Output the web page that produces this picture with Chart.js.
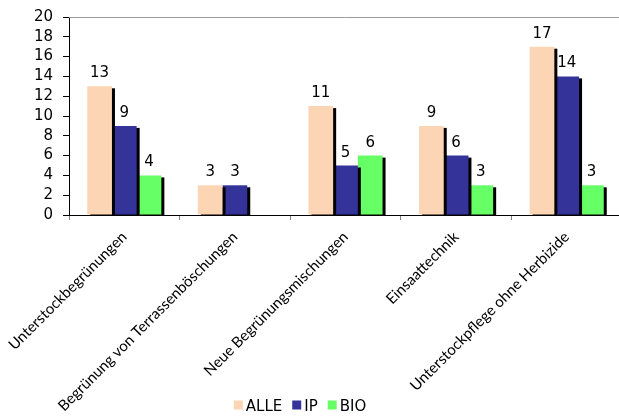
<!DOCTYPE html>
<html>
<head>
<meta charset="utf-8">
<script src="https://cdn.jsdelivr.net/npm/chart.js@4"></script>
<style>
html,body{margin:0;padding:0;background:#fff;overflow:hidden;width:619px;height:417px;}
canvas{display:block;}
</style>
</head>
<body>
<canvas id="c" width="630" height="417"></canvas>
<script>
const categories = ["Unterstockbegrünungen", "Begrünung von Terrassenböschungen", "Neue Begrünungsmischungen", "Einsaattechnik", "Unterstockpflege ohne Herbizide"];
const seriesNames = ["ALLE", "IP", "BIO"];
const alleValues = [13, 3, 11, 9, 17];
const ipValues = [9, 3, 5, 6, 14];
const bioValues = [4, null, 6, 3, 3];
const yTicks = [0, 2, 4, 6, 8, 10, 12, 14, 16, 18, 20];

const colors = ["#FCD5B4", "#333399", "#66FF66"];

const shadowPlugin = {
  id: 'shadow',
  beforeDatasetDraw(chart, args) {
    const ctx = chart.ctx;
    ctx.save();
    ctx.fillStyle = '#000';
    args.meta.data.forEach((el, i) => {
      const v = chart.data.datasets[args.index].data[i];
      if (v === null || v === undefined) return;
      const p = el.getProps(['x', 'y', 'base', 'width'], true);
      const left = p.x - p.width / 2 + 3;
      const top = p.y + 2;
      const bottom = p.base + 1;
      ctx.fillRect(left, top, p.width, bottom - top);
    });
    ctx.restore();
  }
};

const labelPlugin = {
  id: 'vlabels',
  afterDatasetsDraw(chart) {
    const ctx = chart.ctx;
    ctx.save();
    ctx.font = '15px "DejaVu Sans"';
    ctx.fillStyle = '#000';
    ctx.textAlign = 'center';
    ctx.textBaseline = 'alphabetic';
    chart.data.datasets.forEach((ds, di) => {
      const meta = chart.getDatasetMeta(di);
      meta.data.forEach((el, i) => {
        const v = ds.data[i];
        if (v === null || v === undefined) return;
        ctx.fillText(String(v), el.x, el.y - 9);
      });
    });
    ctx.restore();
  }
};

const framePlugin = {
  id: 'frame',
  beforeDatasetsDraw(chart) {
    const a = chart.chartArea;
    const ctx = chart.ctx;
    ctx.save();
    ctx.strokeStyle = '#9a9a9a';
    ctx.lineWidth = 1;
    ctx.beginPath();
    ctx.moveTo(a.left, a.top + 0.5);
    ctx.lineTo(a.right, a.top + 0.5);
    ctx.stroke();
    ctx.restore();
  }
};

const legendPlugin = {
  id: 'customLegend',
  afterDraw(chart) {
    const ctx = chart.ctx;
    ctx.save();
    ctx.font = '15px "DejaVu Sans"';
    ctx.textBaseline = 'alphabetic';
    ctx.textAlign = 'left';
    const box = 9, gapText = 3, gapItem = 10;
    const items = chart.data.datasets.map(ds => ({ text: ds.label, color: ds.backgroundColor, w: ctx.measureText(ds.label).width }));
    let total = 0;
    items.forEach((it, i) => { total += box + gapText + it.w + (i < items.length - 1 ? gapItem : 0); });
    let x = 300 - total / 2;
    const boxTop = 400.5, baseline = 411;
    items.forEach(it => {
      ctx.fillStyle = it.color;
      ctx.fillRect(x, boxTop, box, box);
      x += box + gapText;
      ctx.fillStyle = '#000';
      ctx.fillText(it.text, x, baseline);
      x += it.w + gapItem;
    });
    ctx.restore();
  }
};

const valueSets = [alleValues, ipValues, bioValues];

new Chart(document.getElementById('c'), {
  type: 'bar',
  data: {
    labels: categories,
    datasets: seriesNames.map((n, k) => ({
      label: n,
      data: valueSets[k],
      backgroundColor: colors[k],
      borderWidth: 0,
      categoryPercentage: 0.67,
      barPercentage: 1.0
    }))
  },
  options: {
    responsive: false,
    animation: false,
    layout: { padding: { top: 17, right: 8, left: 0, bottom: 0 } },
    plugins: {
      legend: { display: false },
      tooltip: { enabled: false }
    },
    scales: {
      x: {
        grid: { display: true, drawOnChartArea: false, offset: true, tickLength: 5, color: '#808080' },
        border: { color: '#000', width: 1 },
        ticks: {
          minRotation: 45, maxRotation: 45, padding: 8, autoSkip: false,
          color: '#000',
          font: { family: 'Lato', size: 15 }
        },
        afterFit(scale) {
          scale.paddingLeft = 0;
          scale.paddingRight = 0;
          scale.height = 417 - 215;
        }
      },
      y: {
        min: 0, max: 20,
        afterBuildTicks(scale) { scale.ticks = yTicks.map(v => ({ value: v })); },
        grid: { display: true, drawOnChartArea: false, tickLength: 6, color: '#000' },
        border: { color: '#000', width: 1 },
        ticks: {
          padding: 10, autoSkip: false,
          color: '#000',
          font: { family: '"DejaVu Sans"', size: 15 }
        },
        afterFit(scale) {
          scale.width = 69;
          scale.paddingTop = 0;
          scale.paddingBottom = 0;
        }
      }
    }
  },
  plugins: [framePlugin, shadowPlugin, labelPlugin, legendPlugin]
});
</script>
</body>
</html>
